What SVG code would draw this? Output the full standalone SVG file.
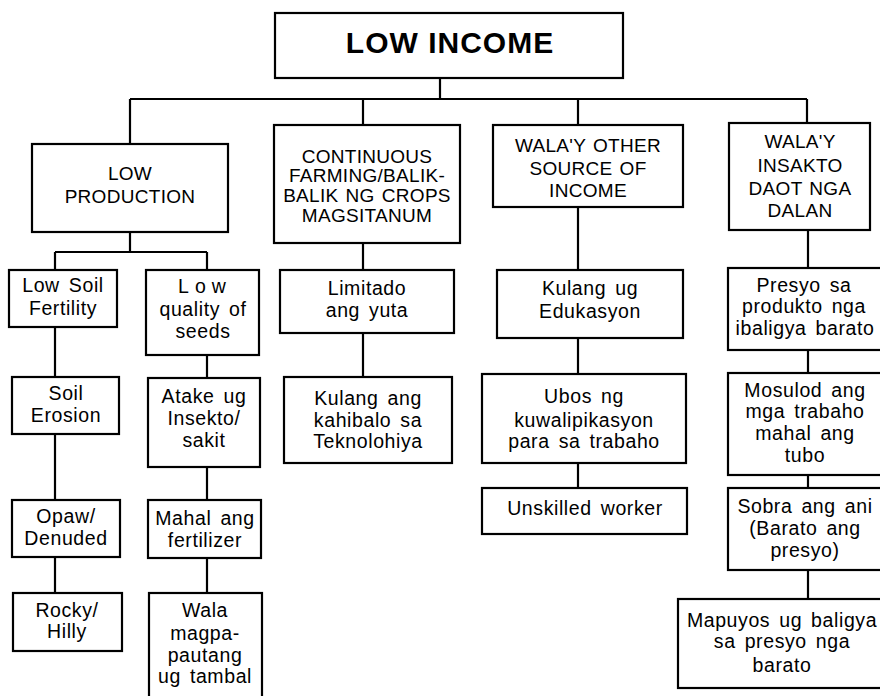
<svg xmlns="http://www.w3.org/2000/svg" width="880" height="696" viewBox="0 0 880 696">
<style>
.box{fill:#fff;stroke:#000;stroke-width:2.2}
.ln{fill:none;stroke:#000;stroke-width:2.2}
text{font-family:"Liberation Sans",Arial,sans-serif;fill:#000;text-anchor:middle}
.t{font-size:30px;font-weight:bold;letter-spacing:1px}
.h{font-size:19px;letter-spacing:0.3px;word-spacing:1.5px}
.n{font-size:19.5px;letter-spacing:0.6px;word-spacing:3px}
</style>
<rect width="880" height="696" fill="#fff"/>
<g id="connectors">
<path class="ln" d="M440,78V99M130,99H807M130,99V144M363,99V125M578,99V125M807,99V123"/>
<path class="ln" d="M130,232V252M55,252H207M55,252V270M207,252V270M55,327V377M207,355V378M55,434V500M207,467V500M55,557V593M207,558V593"/>
<path class="ln" d="M363,243V270M363,333V377"/>
<path class="ln" d="M578,207V270M578,338V374M578,463V488"/>
<path class="ln" d="M808,230V268M808,350V373M808,475V488M808,570V599"/>
</g>
<g id="low-income"><rect class="box" x="275" y="13" width="348" height="65"/><text class="t" x="450" y="53">LOW INCOME</text></g>
<g id="low-production"><rect class="box" x="32" y="144" width="196" height="88"/><text class="h" x="130" y="180">LOW</text><text class="h" x="130" y="203">PRODUCTION</text></g>
<g id="continuous-farming"><rect class="box" x="274" y="125" width="186" height="118"/><text class="h" x="367" y="163">CONTINUOUS</text><text class="h" x="367" y="182">FARMING/BALIK-</text><text class="h" x="367" y="202">BALIK NG CROPS</text><text class="h" x="367" y="222">MAGSITANUM</text></g>
<g id="walay-other-source"><rect class="box" x="493" y="125" width="190" height="82"/><text class="h" x="588" y="152">WALA'Y OTHER</text><text class="h" x="588" y="175">SOURCE OF</text><text class="h" x="588" y="197">INCOME</text></g>
<g id="walay-insakto"><rect class="box" x="729" y="123" width="141" height="107"/><text class="h" x="800" y="148">WALA'Y</text><text class="h" x="800" y="172">INSAKTO</text><text class="h" x="800" y="195">DAOT NGA</text><text class="h" x="800" y="217">DALAN</text></g>
<g id="low-soil-fertility"><rect class="box" x="9" y="270" width="108" height="57"/><text class="n" x="63" y="292">Low Soil</text><text class="n" x="63" y="315">Fertility</text></g>
<g id="low-quality-seeds"><rect class="box" x="146" y="270" width="113" height="85"/><text class="n" x="205" y="293" style="letter-spacing:6px">Low</text><text class="n" x="203" y="316">quality of</text><text class="n" x="203" y="338">seeds</text></g>
<g id="soil-erosion"><rect class="box" x="12" y="377" width="107" height="57"/><text class="n" x="66" y="400">Soil</text><text class="n" x="66" y="422">Erosion</text></g>
<g id="atake"><rect class="box" x="148" y="378" width="112" height="89"/><text class="n" x="204" y="403">Atake ug</text><text class="n" x="204" y="425">Insekto/</text><text class="n" x="204" y="447">sakit</text></g>
<g id="opaw"><rect class="box" x="12" y="500" width="108" height="57"/><text class="n" x="66" y="523">Opaw/</text><text class="n" x="66" y="545">Denuded</text></g>
<g id="mahal-fertilizer"><rect class="box" x="148" y="500" width="113" height="58"/><text class="n" x="205" y="525">Mahal ang</text><text class="n" x="205" y="547">fertilizer</text></g>
<g id="rocky"><rect class="box" x="13" y="593" width="109" height="58"/><text class="n" x="67" y="617">Rocky/</text><text class="n" x="67" y="638">Hilly</text></g>
<g id="wala-magpapautang"><rect class="box" x="149" y="593" width="113" height="110"/><text class="n" x="205" y="617">Wala</text><text class="n" x="205" y="640">magpa-</text><text class="n" x="205" y="662">pautang</text><text class="n" x="205" y="683">ug tambal</text></g>
<g id="limitado"><rect class="box" x="280" y="270" width="174" height="63"/><text class="n" x="367" y="295">Limitado</text><text class="n" x="367" y="317">ang yuta</text></g>
<g id="kulang-kahibalo"><rect class="box" x="284" y="377" width="168" height="86"/><text class="n" x="368" y="405">Kulang ang</text><text class="n" x="368" y="427">kahibalo sa</text><text class="n" x="368" y="448">Teknolohiya</text></g>
<g id="kulang-edukasyon"><rect class="box" x="497" y="270" width="186" height="68"/><text class="n" x="590" y="295">Kulang ug</text><text class="n" x="590" y="318">Edukasyon</text></g>
<g id="ubos"><rect class="box" x="482" y="374" width="204" height="89"/><text class="n" x="584" y="403">Ubos ng</text><text class="n" x="584" y="427">kuwalipikasyon</text><text class="n" x="584" y="448">para sa trabaho</text></g>
<g id="unskilled"><rect class="box" x="482" y="488" width="205" height="46"/><text class="n" x="585" y="515">Unskilled worker</text></g>
<g id="presyo"><rect class="box" x="728" y="268" width="156" height="82"/><text class="n" x="804" y="292">Presyo sa</text><text class="n" x="804" y="313">produkto nga</text><text class="n" x="805" y="335">ibaligya barato</text></g>
<g id="mosulod"><rect class="box" x="728" y="373" width="156" height="102"/><text class="n" x="805" y="397">Mosulod ang</text><text class="n" x="805" y="418">mga trabaho</text><text class="n" x="805" y="440">mahal ang</text><text class="n" x="805" y="462">tubo</text></g>
<g id="sobra"><rect class="box" x="728" y="488" width="156" height="82"/><text class="n" x="805" y="513">Sobra ang ani</text><text class="n" x="805" y="535">(Barato ang</text><text class="n" x="805" y="557">presyo)</text></g>
<g id="mapuyos"><rect class="box" x="678" y="599" width="206" height="89"/><text class="n" x="782" y="627">Mapuyos ug baligya</text><text class="n" x="782" y="648">sa presyo nga</text><text class="n" x="782" y="672">barato</text></g>
</svg>
